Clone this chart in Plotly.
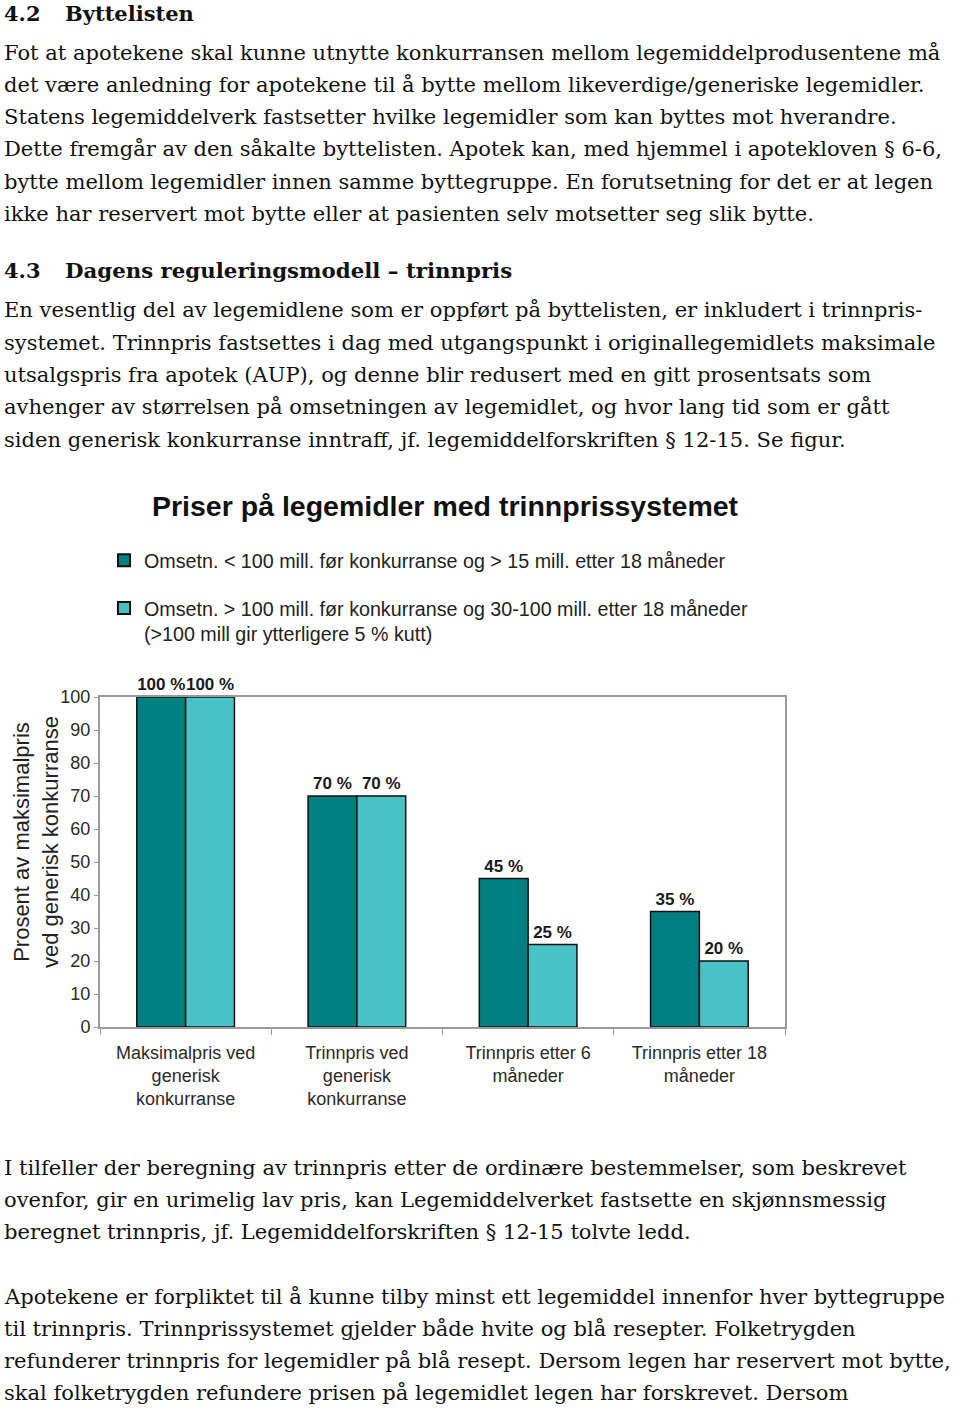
import plotly.graph_objects as go

# ---- data ----
categories = [
    "Maksimalpris ved<br>generisk<br>konkurranse",
    "Trinnpris ved<br>generisk<br>konkurranse",
    "Trinnpris etter 6<br>måneder",
    "Trinnpris etter 18<br>måneder",
]
series_small = [100, 70, 45, 35]
series_large = [100, 70, 25, 20]
name_small = "Omsetn. < 100 mill. før konkurranse og > 15 mill. etter 18 måneder"
name_large = "Omsetn. > 100 mill. før konkurranse og 30-100 mill. etter 18 måneder<br>(>100 mill gir ytterligere 5 % kutt)"
y_ticks = [0, 10, 20, 30, 40, 50, 60, 70, 80, 90, 100]
chart_title = "Priser på legemidler med trinnprissystemet"
y_title = "Prosent av maksimalpris<br>ved generisk konkurranse"

heading_1 = ("4.2", "Byttelisten")
para_1 = [
    "Fot at apotekene skal kunne utnytte konkurransen mellom legemiddelprodusentene må",
    "det være anledning for apotekene til å bytte mellom likeverdige/generiske legemidler.",
    "Statens legemiddelverk fastsetter hvilke legemidler som kan byttes mot hverandre.",
    "Dette fremgår av den såkalte byttelisten. Apotek kan, med hjemmel i apotekloven § 6-6,",
    "bytte mellom legemidler innen samme byttegruppe. En forutsetning for det er at legen",
    "ikke har reservert mot bytte eller at pasienten selv motsetter seg slik bytte.",
]
heading_2 = ("4.3", "Dagens reguleringsmodell – trinnpris")
para_2 = [
    "En vesentlig del av legemidlene som er oppført på byttelisten, er inkludert i trinnpris-",
    "systemet. Trinnpris fastsettes i dag med utgangspunkt i originallegemidlets maksimale",
    "utsalgspris fra apotek (AUP), og denne blir redusert med en gitt prosentsats som",
    "avhenger av størrelsen på omsetningen av legemidlet, og hvor lang tid som er gått",
    "siden generisk konkurranse inntraff, jf. legemiddelforskriften § 12-15. Se figur.",
]
para_3 = [
    "I tilfeller der beregning av trinnpris etter de ordinære bestemmelser, som beskrevet",
    "ovenfor, gir en urimelig lav pris, kan Legemiddelverket fastsette en skjønnsmessig",
    "beregnet trinnpris, jf. Legemiddelforskriften § 12-15 tolvte ledd.",
]
para_4 = [
    "Apotekene er forpliktet til å kunne tilby minst ett legemiddel innenfor hver byttegruppe",
    "til trinnpris. Trinnprissystemet gjelder både hvite og blå resepter. Folketrygden",
    "refunderer trinnpris for legemidler på blå resept. Dersom legen har reservert mot bytte,",
    "skal folketrygden refundere prisen på legemidlet legen har forskrevet. Dersom",
]

# ---- layout geometry (pixels) ----
W, H = 960, 1410
L, R, T, B = 100, 785, 697, 1027


def px(x):
    return (x - L) / (R - L)


def py(y):
    return (B - y) / (B - T)


sans = "Liberation Sans, Arial, sans-serif"
serif = "DejaVu Serif, serif"

fig = go.Figure()
fig.add_trace(go.Bar(
    x=categories, y=series_small, name=name_small,
    marker=dict(color="#007F80", line=dict(color="#111111", width=1.5)),
    texttemplate="%{y} %", textposition="outside", constraintext="none",
    textfont=dict(family=sans, size=17, color="#1a1a1a", weight="bold"),
    cliponaxis=False, legendgroup="a",
))
fig.add_trace(go.Bar(
    x=categories, y=series_large, name=name_large,
    marker=dict(color="#47C2C5", line=dict(color="#111111", width=1.5)),
    texttemplate="%{y} %", textposition="outside", constraintext="none",
    textfont=dict(family=sans, size=17, color="#1a1a1a", weight="bold"),
    cliponaxis=False, legendgroup="b",
))

annotations = []

# chart title
annotations.append(dict(
    text="<b>" + chart_title + "</b>", x=px(445), y=py(506), xref="paper", yref="paper",
    xanchor="center", yanchor="middle", showarrow=False,
    font=dict(family=sans, size=28.5, color="#111111"),
))
# y axis title
annotations.append(dict(
    text=y_title, x=px(36), y=py(842), xref="paper", yref="paper",
    xanchor="center", yanchor="middle", showarrow=False, textangle=-90,
    font=dict(family=sans, size=22, color="#222222"),
))


def add_line(text, x, y, size=21.05, bold=False):
    annotations.append(dict(
        text=("<b>" + text + "</b>") if bold else text,
        x=px(x), y=py(y), xref="paper", yref="paper",
        xanchor="left", yanchor="middle", showarrow=False,
        font=dict(family=serif, size=size, color="#111111"),
    ))


add_line(heading_1[0], 2, 13, size=21, bold=True)
add_line(heading_1[1], 63, 13, size=21, bold=True)
for i, line in enumerate(para_1):
    add_line(line, 2, 52 + i * 32.3)
add_line(heading_2[0], 2, 271, size=21, bold=True)
add_line(heading_2[1], 63, 271, size=21.3, bold=True)
for i, line in enumerate(para_2):
    add_line(line, 2, 310 + i * 32.3)
for i, line in enumerate(para_3):
    add_line(line, 2, 1167 + i * 32.3)
for i, line in enumerate(para_4):
    add_line(line, 2, 1296 + i * 32.3)

fig.update_layout(
    width=W, height=H,
    margin=dict(l=L, r=W - R, t=T, b=H - B, autoexpand=False),
    paper_bgcolor="white", plot_bgcolor="white",
    barmode="group", bargap=0.43, bargroupgap=0,
    showlegend=True,
    legend=dict(
        x=px(104), y=py(541), xanchor="left", yanchor="top",
        font=dict(family=sans, size=19.7, color="#222222"),
        traceorder="grouped", tracegroupgap=19, valign="top",
        itemsizing="constant", bgcolor="rgba(0,0,0,0)",
    ),
    annotations=annotations,
    font=dict(family=sans),
)
fig.update_xaxes(
    showline=True, linecolor="#9a9a9a", linewidth=2, mirror=True,
    ticks="outside", tickson="boundaries", ticklen=6, tickcolor="#9a9a9a",
    tickfont=dict(family=sans, size=18, color="#2a2a2a"),
    ticklabelstandoff=8, showgrid=False, fixedrange=True,
)
fig.update_yaxes(
    range=[0, 100], tickvals=y_ticks,
    showline=True, linecolor="#9a9a9a", linewidth=2, mirror=True,
    ticks="outside", ticklen=4, tickcolor="#9a9a9a",
    tickfont=dict(family=sans, size=18, color="#2a2a2a"),
    showgrid=False, zeroline=False,
)

fig.write_html(
    "out.html",
    config={"displayModeBar": False},
    post_script="document.body.style.margin='0';",
)
